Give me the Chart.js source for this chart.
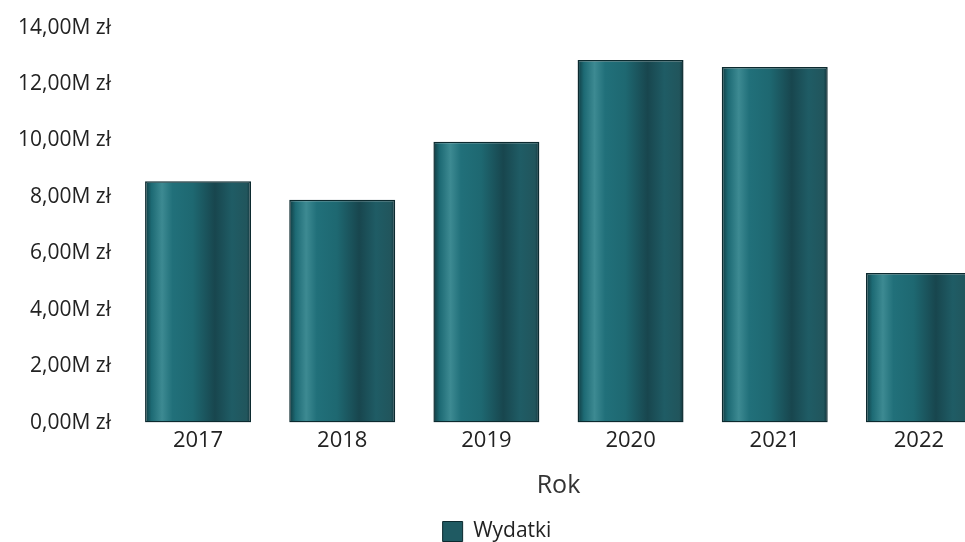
<!DOCTYPE html>
<html>
<head>
<meta charset="utf-8">
<script src="https://cdn.jsdelivr.net/npm/chart.js@4"></script>
<style>
  html, body { margin: 0; padding: 0; background: #fff; overflow: hidden; }
  #wrap { width: 995px; height: 542px; position: relative; }
</style>
</head>
<body>
<div id="wrap"><canvas id="expenseBar"></canvas></div>
<script>
const years = ["2017", "2018", "2019", "2020", "2021", "2022"];
const expenses = [8550000, 7900000, 9950000, 12850000, 12600000, 5300000];
const yTicks = [0, 2000000, 4000000, 6000000, 8000000, 10000000, 12000000, 14000000];

const barFraction = 0.735;

// horizontal gradient per bar, built from the x scale
const barFill = (ctx) => {
  const chart = ctx.chart;
  const xScale = chart.scales.x;
  if (!xScale || ctx.dataIndex === undefined) return "#1f6670";
  const center = xScale.getPixelForValue(ctx.dataIndex);
  const w = (xScale.width / years.length) * barFraction;
  const g = chart.ctx.createLinearGradient(center - w / 2, 0, center + w / 2, 0);
  g.addColorStop(0, "#103a40");
  g.addColorStop(0.06, "#1d6a74");
  g.addColorStop(0.16, "#3d8a92");
  g.addColorStop(0.26, "#21707a");
  g.addColorStop(0.45, "#1e6871");
  g.addColorStop(0.66, "#18464e");
  g.addColorStop(0.82, "#1f5c65");
  g.addColorStop(0.96, "#21555c");
  g.addColorStop(1, "#10323a");
  return g;
};

const formatZl = (v) => (v / 1000000).toFixed(2).replace(".", ",") + "M zł";

new Chart(document.querySelector("#expenseBar"), {
  type: "bar",
  data: {
    labels: years,
    datasets: [
      {
        label: "Wydatki",
        data: expenses,
        backgroundColor: barFill,
        borderColor: "#0c2a2f",
        borderWidth: 1.5,
        borderSkipped: false,
        categoryPercentage: barFraction,
        barPercentage: 1.0,
      },
    ],
  },
  options: {
    responsive: true,
    maintainAspectRatio: false,
    animation: false,
    layout: { padding: { top: 4, right: 4, left: 3, bottom: -10 } },
    plugins: {
      tooltip: { enabled: false },
      legend: {
        position: "bottom",
        labels: {
          color: "#222",
          font: { family: "Open Sans", size: 21 },
          boxWidth: 20,
          boxHeight: 20,
          padding: 1,
          generateLabels: () => [
            { text: "Wydatki", fillStyle: "#1f5a62", strokeStyle: "#0c2a2f", lineWidth: 1, fontColor: "#222" },
          ],
        },
      },
    },
    scales: {
      x: {
        grid: { display: false, drawTicks: false },
        border: { display: false },
        ticks: { color: "#222", font: { family: "Open Sans", size: 22 }, padding: 5 },
        title: {
          display: true,
          text: "Rok",
          color: "#333",
          font: { family: "Open Sans", size: 25 },
          padding: { top: 12, bottom: 19 },
        },
      },
      y: {
        min: 0,
        max: 14000000,
        afterBuildTicks: (axis) => {
          axis.ticks = yTicks.map((v) => ({ value: v }));
        },
        grid: { display: false, drawTicks: false },
        border: { display: false },
        ticks: {
          color: "#222",
          font: { family: "Open Sans", size: 21 },
          padding: 15,
          callback: (v) => formatZl(v),
        },
      },
    },
  },
});
</script>
</body>
</html>
